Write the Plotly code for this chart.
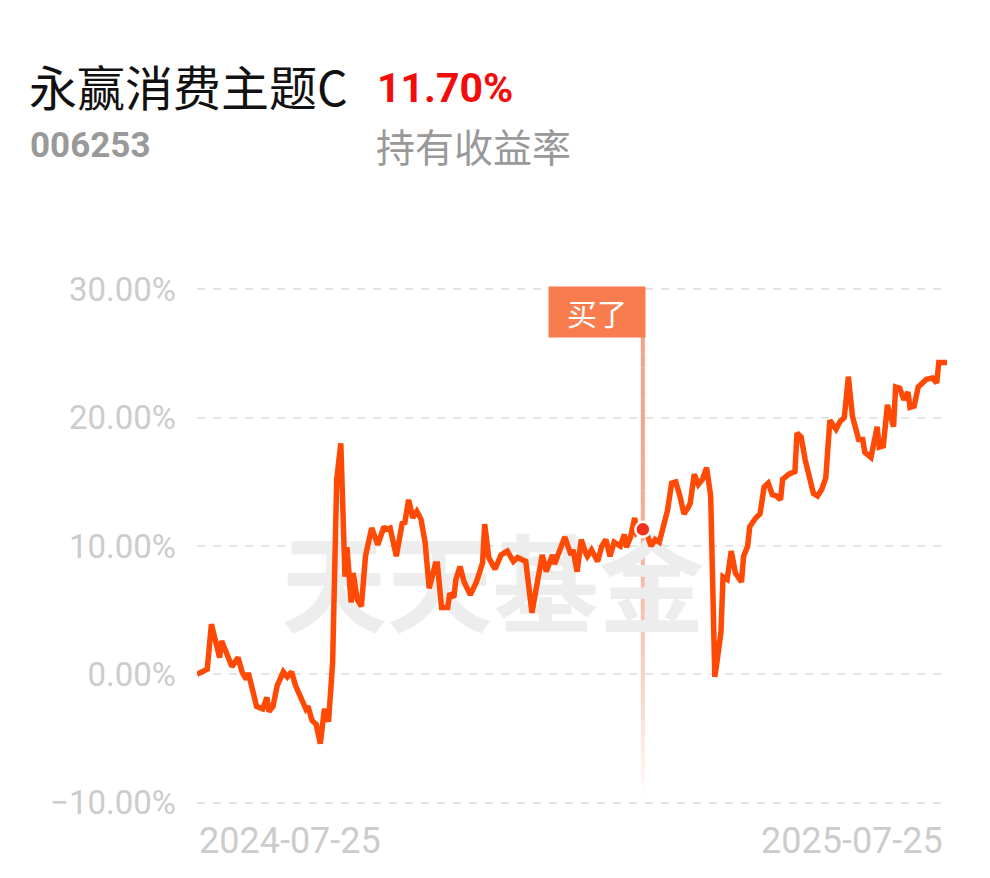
import pandas as pd
import plotly.graph_objects as go

# ---------------- data ----------------
start_date = "2024-07-25"
end_date = "2025-07-25"

day_offset = [0, 3, 5, 7, 9, 11, 12, 15, 17, 20, 22, 24, 25, 27, 29, 32, 34, 35, 37, 39,
              40, 42, 44, 46, 48, 51, 53, 54, 56, 58, 60, 62, 64, 66, 67, 68, 70, 71, 72, 73,
              75, 76, 78, 80, 82, 85, 88, 91, 92, 94, 97, 100, 101, 103, 105, 107, 109, 111, 113, 116,
              117, 119, 122, 123, 125, 126, 128, 130, 133, 136, 139, 140, 142, 145, 148, 151, 154, 156, 160, 163,
              165, 168, 170, 173, 174, 178, 179, 182, 183, 185, 187, 189, 190, 192, 195, 197, 199, 201, 203, 206,
              208, 209, 211, 213, 214, 217, 219, 221, 223, 225, 227, 229, 231, 233, 235, 237, 239, 240, 242, 244,
              246, 248, 250, 251, 252, 253, 255, 256, 258, 260, 262, 265, 266, 268, 269, 272, 274, 276, 278, 280,
              282, 284, 285, 288, 291, 292, 294, 296, 298, 300, 302, 304, 306, 308, 311, 313, 315, 317, 319, 322,
              324, 325, 328, 331, 332, 334, 336, 339, 340, 342, 344, 346, 347, 349, 351, 353, 355, 358, 360, 361,
              364, 365]

return_pct = [0.0, 0.2, 0.4, 3.9, 2.5, 1.3, 2.6, 1.4, 0.6, 1.3, 0.15, -0.4, 0.1, -1.2, -2.5, -2.7, -1.8, -2.9, -2.5, -0.9,
              -0.6, 0.2, -0.2, 0.2, -0.9, -1.9, -2.7, -2.5, -3.6, -3.9, -5.4, -2.7, -3.7, 0.9, 11.3, 15.2, 18.0, 11.8, 7.6, 9.9,
              5.6, 7.9, 5.8, 5.3, 9.2, 11.4, 10.1, 11.5, 11.3, 11.4, 9.2, 11.9, 11.7, 13.6, 12.2, 12.7, 12.1, 10.3, 6.7, 8.6,
              8.6, 5.2, 5.2, 6.3, 6.0, 7.4, 8.4, 7.2, 6.2, 7.2, 8.7, 11.7, 9.1, 8.2, 9.3, 9.6, 8.8, 9.1, 8.8, 4.8,
              6.8, 9.3, 8.0, 9.3, 8.6, 10.5, 10.7, 9.3, 9.7, 8.0, 10.5, 9.5, 9.2, 9.7, 8.8, 10.0, 10.5, 9.2, 10.3, 10.0,
              10.9, 9.9, 10.7, 12.2, 11.0, 11.3, 10.9, 10.0, 10.5, 10.3, 11.4, 12.8, 14.9, 15.0, 13.9, 12.5, 13.0, 13.3, 15.6, 14.8,
              15.2, 16.1, 13.9, 8.0, -0.2, 0.9, 3.3, 7.6, 7.4, 9.6, 7.9, 7.2, 9.2, 10.0, 11.5, 12.2, 12.5, 14.6, 14.9, 14.0,
              13.9, 13.6, 15.2, 15.6, 15.8, 18.8, 18.5, 16.7, 15.4, 14.1, 13.9, 14.4, 15.3, 19.8, 19.1, 19.7, 20.0, 23.2, 20.1, 18.3,
              18.3, 17.3, 16.9, 19.3, 17.7, 17.8, 21.0, 19.3, 22.4, 22.3, 21.4, 22.0, 20.8, 20.9, 22.4, 22.7, 23.0, 23.1, 22.7, 24.3,
              24.3, 24.3]

buy_day = 217
buy_return = 11.3

y_ticks = [-10, 0, 10, 20, 30]
x_tick_labels = ["2024-07-25", "2025-07-25"]

fund_name = "永赢消费主题C"
fund_code = "006253"
holding_return = "11.70%"
holding_label = "持有收益率"
buy_label = "买了"
watermark = "天天基金"
watermark_day = 144
watermark_value = 6.0

# ---------------- derived ----------------
t0 = pd.Timestamp(start_date)
dates = [t0 + pd.Timedelta(days=d) for d in day_offset]
buy_date = t0 + pd.Timedelta(days=buy_day)
wm_date = t0 + pd.Timedelta(days=watermark_day)

OFF = 8  # page body offset
W, H = 982, 870
ML, MR, MT, MB = 189, 43, 275, 69
PW, PH = W - ML - MR, H - MT - MB


def px(xs):
    return (xs - OFF - ML) / PW


def py(ys):
    return (H - MB - (ys - OFF)) / PH


CJK = "Noto Sans CJK SC"
NUM = "Roboto"

fig = go.Figure()

# watermark (below the line)
fig.add_trace(go.Scatter(
    x=[wm_date], y=[watermark_value], mode="text", text=[watermark],
    textfont=dict(family=CJK, size=106, color="#ededed", weight="bold"),
    hoverinfo="skip", showlegend=False, cliponaxis=False,
))

# buy vertical line with fade
y_top, y_bot = 26.3, -9.6
nseg = 30
for i in range(nseg):
    a = y_top + (y_bot - y_top) * i / nseg
    b = y_top + (y_bot - y_top) * (i + 1) / nseg
    t = (i + 0.5) / nseg
    op = 0.75 * (1 - t ** 2.2)
    fig.add_shape(type="line", x0=buy_date, x1=buy_date, y0=a, y1=b,
                  line=dict(color=f"rgba(246,130,92,{op:.3f})", width=4),
                  layer="below")

# main line
fig.add_trace(go.Scatter(
    x=dates, y=return_pct, mode="lines",
    line=dict(color="#ff4a05", width=5.5, shape="linear"),
    hoverinfo="skip", showlegend=False,
))

# buy dot
fig.add_trace(go.Scatter(
    x=[buy_date], y=[buy_return], mode="markers",
    marker=dict(size=15, color="#f0321c", line=dict(color="white", width=2.5)),
    hoverinfo="skip", showlegend=False,
))

annotations = [
    dict(x=px(27), y=py(85), xref="paper", yref="paper", xanchor="left", yanchor="middle",
         text=fund_name, showarrow=False, font=dict(family=CJK, size=48, color="#111111")),
    dict(x=px(375), y=py(88), xref="paper", yref="paper", xanchor="left", yanchor="middle",
         text=f"<b>{holding_return}</b>", showarrow=False,
         font=dict(family=NUM, size=41, color="#f20d0d")),
    dict(x=px(28), y=py(146), xref="paper", yref="paper", xanchor="left", yanchor="middle",
         text=f"<b>{fund_code}</b>", showarrow=False, font=dict(family=NUM, size=35, color="#999999")),
    dict(x=px(374), y=py(145), xref="paper", yref="paper", xanchor="left", yanchor="middle",
         text=holding_label, showarrow=False, font=dict(family=CJK, size=39, color="#999999")),
    dict(x=0, y=py(841), xref="paper", yref="paper", xanchor="left", yanchor="middle",
         xshift=0, text=x_tick_labels[0], showarrow=False,
         font=dict(family=NUM, size=36, color="#cccccc")),
    dict(x=1, y=py(841), xref="paper", yref="paper", xanchor="right", yanchor="middle",
         xshift=-2, text=x_tick_labels[1], showarrow=False,
         font=dict(family=NUM, size=36, color="#cccccc")),
    dict(x=buy_date, y=py(312), xref="x", yref="paper", xanchor="right", yanchor="middle",
         xshift=3, text=buy_label, showarrow=False, bgcolor="#f97c4f",
         width=92, height=46, borderpad=2, align="center",
         font=dict(family=CJK, size=30, color="white")),
]

fig.update_layout(
    width=W, height=H,
    margin=dict(l=ML, r=MR, t=MT, b=MB),
    paper_bgcolor="white", plot_bgcolor="white",
    showlegend=False,
    annotations=annotations,
    xaxis=dict(range=[t0, pd.Timestamp(end_date)], showgrid=False, zeroline=False,
               showticklabels=False, showline=False, fixedrange=True),
    yaxis=dict(range=[-10.5, 30.5], tickvals=y_ticks,
               ticktext=[(f"{v:.2f}%").replace("-", "\u2212") for v in y_ticks],
               showgrid=True, gridcolor="#e3e3e3", gridwidth=2, griddash="8px,8px",
               zeroline=False, showline=False, ticks="", ticklabelstandoff=20,
               tickfont=dict(family=NUM, size=33, color="#cccccc"), fixedrange=True),
)

fig.write_html("out.html")
